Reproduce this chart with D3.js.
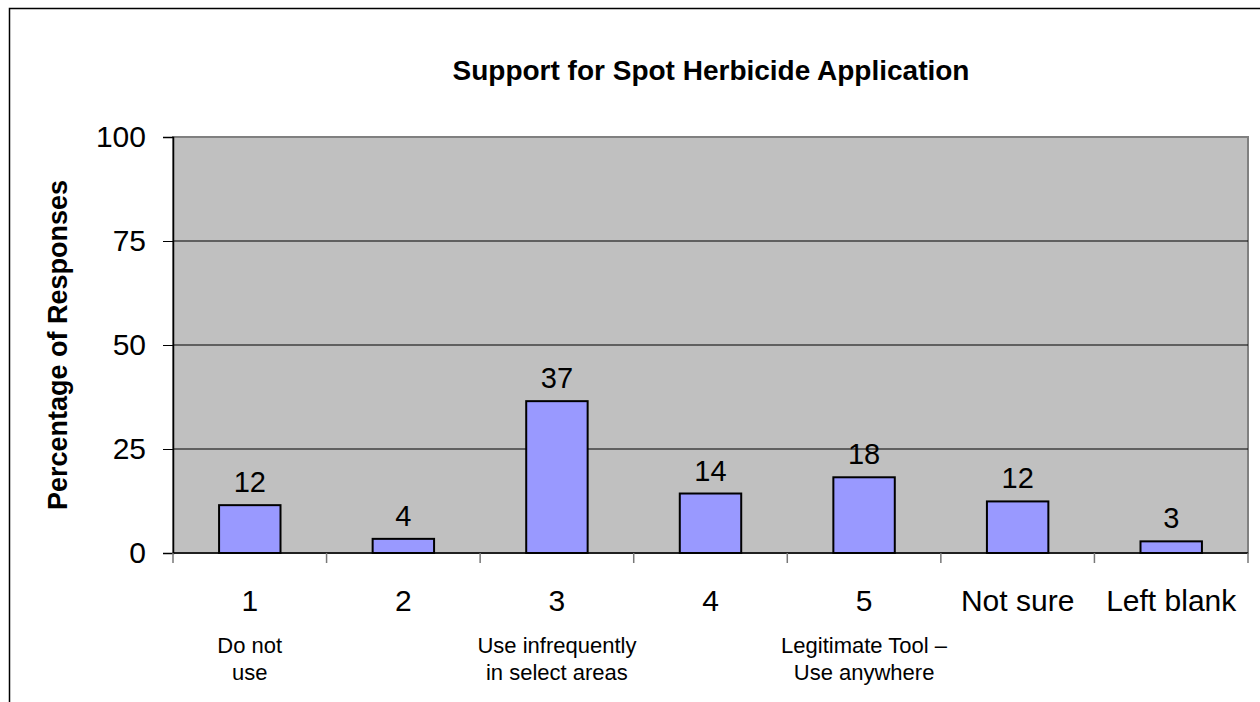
<!DOCTYPE html>
<html>
<head>
<meta charset="utf-8">
<script src="https://cdn.jsdelivr.net/npm/d3@7"></script>
<style>
  body { margin: 0; background: #fff; }
  text { font-family: "Liberation Sans", Arial, sans-serif; }
</style>
</head>
<body>
<div id="chart"></div>
<script>
// chart data
const categories = ['1', '2', '3', '4', '5', 'Not sure', 'Left blank'];
const subLabels = [['Do not', 'use'], [], ['Use infrequently', 'in select areas'], [], ['Legitimate Tool \u2013', 'Use anywhere'], [], []];
const values = [11.5, 3.4, 36.5, 14.3, 18.2, 12.4, 2.8];
const valueLabels = ['12', '4', '37', '14', '18', '12', '3'];
const yTicks = [0, 25, 50, 75, 100];

const width = 1260, height = 702;
const plot = { left: 173, top: 137, right: 1248, bottom: 553 };

const svg = d3.select('#chart').append('svg')
    .attr('width', width)
    .attr('height', height);

// outer frame
svg.append('rect')
    .attr('x', 9.5).attr('y', 8.5)
    .attr('width', width + 20).attr('height', height + 20)
    .attr('fill', '#fff')
    .attr('stroke', '#000')
    .attr('stroke-width', 1.5);

const x = d3.scaleBand()
    .domain(categories)
    .range([plot.left, plot.right])
    .paddingInner(0.6)
    .paddingOuter(0.3);

const y = d3.scaleLinear()
    .domain([0, 100])
    .range([plot.bottom, plot.top]);

// plot background
svg.append('rect')
    .attr('x', plot.left).attr('y', plot.top)
    .attr('width', plot.right - plot.left).attr('height', plot.bottom - plot.top)
    .attr('fill', '#c0c0c0')
    .attr('stroke', '#808080')
    .attr('stroke-width', 2);

// gridlines
svg.append('g')
    .selectAll('line')
    .data(yTicks.filter(d => d > 0 && d < 100))
    .enter().append('line')
    .attr('x1', plot.left).attr('x2', plot.right)
    .attr('y1', d => y(d)).attr('y2', d => y(d))
    .attr('stroke', '#000')
    .attr('stroke-width', 1);

// y axis
const yAxis = svg.append('g')
    .attr('transform', `translate(${plot.left},0)`)
    .call(d3.axisLeft(y).tickValues(yTicks).tickSize(10).tickPadding(17));
yAxis.select('.domain').attr('stroke', '#000').attr('stroke-width', 1.5);
yAxis.selectAll('.tick line').attr('stroke', '#000');
yAxis.selectAll('.tick text')
    .attr('font-family', '"Liberation Sans", Arial, sans-serif')
    .attr('font-size', 30)
    .attr('fill', '#000');

// x axis with ticks on category boundaries
const step = (plot.right - plot.left) / categories.length;
svg.append('line')
    .attr('x1', plot.left).attr('x2', plot.right)
    .attr('y1', plot.bottom).attr('y2', plot.bottom)
    .attr('stroke', '#000').attr('stroke-width', 1.5);
svg.append('g')
    .selectAll('line')
    .data(d3.range(categories.length + 1))
    .enter().append('line')
    .attr('x1', i => plot.left + i * step).attr('x2', i => plot.left + i * step)
    .attr('y1', plot.bottom).attr('y2', plot.bottom + 10)
    .attr('stroke', '#777')
    .attr('stroke-width', 1.5);

// bars
svg.append('g')
    .selectAll('rect')
    .data(values)
    .enter().append('rect')
    .attr('x', (d, i) => x(categories[i]))
    .attr('y', d => y(d))
    .attr('width', x.bandwidth())
    .attr('height', d => y(0) - y(d))
    .attr('fill', '#9999ff')
    .attr('stroke', '#000')
    .attr('stroke-width', 2);

// value labels
svg.append('g')
    .selectAll('text')
    .data(values)
    .enter().append('text')
    .attr('x', (d, i) => x(categories[i]) + x.bandwidth() / 2)
    .attr('y', d => y(d) - 13)
    .attr('text-anchor', 'middle')
    .style('font-size', '29px')
    .text((d, i) => valueLabels[i]);

// category labels
svg.append('g')
    .selectAll('text')
    .data(categories)
    .enter().append('text')
    .attr('x', d => x(d) + x.bandwidth() / 2)
    .attr('y', 611)
    .attr('text-anchor', 'middle')
    .style('font-size', '30px')
    .text(d => d);

// descriptive sub labels
categories.forEach((c, i) => {
    subLabels[i].forEach((line, j) => {
        svg.append('text')
            .attr('x', x(c) + x.bandwidth() / 2)
            .attr('y', 653 + j * 27)
            .attr('text-anchor', 'middle')
            .style('font-size', '22px')
            .text(line);
    });
});

// title
svg.append('text')
    .attr('x', 711)
    .attr('y', 80)
    .attr('text-anchor', 'middle')
    .style('font-size', '28px')
    .style('font-weight', 'bold')
    .text('Support for Spot Herbicide Application');

// y axis title
svg.append('text')
    .attr('transform', `translate(67,345) rotate(-90)`)
    .attr('text-anchor', 'middle')
    .style('font-size', '27px')
    .style('font-weight', 'bold')
    .text('Percentage of Responses');
</script>
</body>
</html>
